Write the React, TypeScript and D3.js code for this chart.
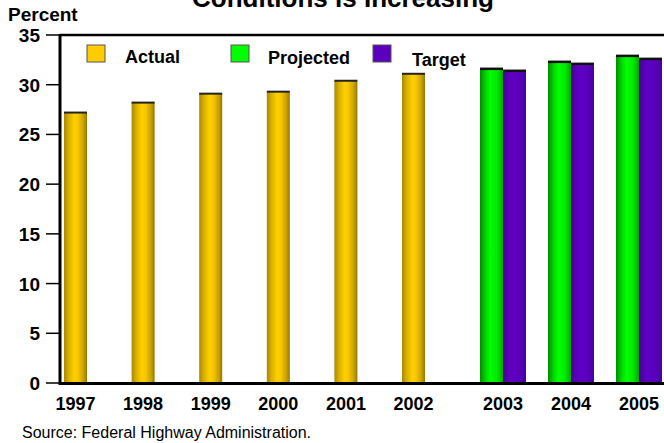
import * as d3 from 'd3';

const actualYears = ['1997', '1998', '1999', '2000', '2001', '2002'];
const actualValues = [27.2, 28.2, 29.1, 29.3, 30.4, 31.1];
const futureYears = ['2003', '2004', '2005'];
const projectedValues = [31.6, 32.3, 32.9];
const targetValues = [31.4, 32.1, 32.6];
const yTicks = [0, 5, 10, 15, 20, 25, 30, 35];

const W = 664;
const H = 443;
const left = 60;
const top = 35;
const bottom = 383;
const barW = 23;
const font = 'Arial, "Liberation Sans", Helvetica, sans-serif';

export default function App() {
  const y = d3.scaleLinear().domain([0, 35]).range([bottom, top]);
  const xActual = d3.scaleBand().domain(actualYears).range([41.7, 447.3]);
  const xFuture = d3.scaleBand().domain(futureYears).range([469, 673]);

  const legend = [
    { label: 'Actual', fill: '#FFCC00', sx: 87, tx: 125, ty: 63 },
    { label: 'Projected', fill: '#00FF00', sx: 231, tx: 268, ty: 64 },
    { label: 'Target', fill: '#5B00BF', sx: 373, tx: 412, ty: 66 },
  ];

  return (
    <div style={{ position: 'absolute', left: 0, top: 0 }}>
      <svg width={W} height={H} style={{ display: 'block', background: '#fff' }} fontFamily={font}>
        <defs>
          <linearGradient id="gold" x1="0" x2="1" y1="0" y2="0">
            <stop offset="0%" stopColor="#A88800" />
            <stop offset="20%" stopColor="#D8B000" />
            <stop offset="45%" stopColor="#FFD000" />
            <stop offset="60%" stopColor="#F8C800" />
            <stop offset="85%" stopColor="#C8A000" />
            <stop offset="100%" stopColor="#957600" />
          </linearGradient>
          <linearGradient id="green" x1="0" x2="1" y1="0" y2="0">
            <stop offset="0%" stopColor="#008C00" />
            <stop offset="25%" stopColor="#00D800" />
            <stop offset="45%" stopColor="#00FF00" />
            <stop offset="75%" stopColor="#00E800" />
            <stop offset="100%" stopColor="#00A800" />
          </linearGradient>
          <linearGradient id="purple" x1="0" x2="1" y1="0" y2="0">
            <stop offset="0%" stopColor="#4A0098" />
            <stop offset="35%" stopColor="#5E00C4" />
            <stop offset="70%" stopColor="#5A00BC" />
            <stop offset="100%" stopColor="#4800A0" />
          </linearGradient>
        </defs>

        {/* title (second line; first line is above the frame) */}
        <text x={343} y={7} textAnchor="middle" fontSize={26} fontWeight="bold">
          Conditions is Increasing
        </text>
        <text x={8} y={21} fontSize={19} fontWeight="bold">Percent</text>

        {/* actual bars */}
        {actualYears.map((yr, i) => {
          const cx = xActual(yr)! + xActual.bandwidth() / 2;
          return (
            <g key={yr}>
              <rect x={cx - barW / 2} y={y(actualValues[i])} width={barW} height={bottom - y(actualValues[i])} fill="url(#gold)" />
              <line x1={cx - barW / 2} x2={cx + barW / 2} y1={y(actualValues[i])} y2={y(actualValues[i])} stroke="#222" strokeWidth={2} />
            </g>
          );
        })}

        {/* projected + target bars */}
        {futureYears.map((yr, i) => {
          const cx = xFuture(yr)! + xFuture.bandwidth() / 2;
          return (
            <g key={yr}>
              <rect x={cx - barW} y={y(projectedValues[i])} width={barW} height={bottom - y(projectedValues[i])} fill="url(#green)" />
              <line x1={cx - barW} x2={cx} y1={y(projectedValues[i])} y2={y(projectedValues[i])} stroke="#111" strokeWidth={2.5} />
              <rect x={cx} y={y(targetValues[i])} width={barW} height={bottom - y(targetValues[i])} fill="url(#purple)" />
              <line x1={cx} x2={cx + barW} y1={y(targetValues[i])} y2={y(targetValues[i])} stroke="#111" strokeWidth={2.5} />
            </g>
          );
        })}

        {/* frame */}
        <line x1={left} x2={W} y1={top} y2={top} stroke="#000" strokeWidth={2.5} />
        <line x1={left} x2={W} y1={bottom + 0.5} y2={bottom + 0.5} stroke="#000" strokeWidth={3} />
        <line x1={left} x2={left} y1={top - 1} y2={bottom + 2} stroke="#000" strokeWidth={3} />

        {/* y ticks */}
        {yTicks.map((t) => (
          <g key={t}>
            <line x1={46} x2={left} y1={y(t)} y2={y(t)} stroke="#000" strokeWidth={1.5} />
            <text x={40} y={y(t) + 7} textAnchor="end" fontSize={19} fontWeight="bold">{t}</text>
          </g>
        ))}

        {/* x labels */}
        {actualYears.map((yr) => (
          <text key={yr} x={xActual(yr)! + xActual.bandwidth() / 2} y={410} textAnchor="middle" fontSize={18} fontWeight="bold">{yr}</text>
        ))}
        {futureYears.map((yr) => (
          <text key={yr} x={xFuture(yr)! + xFuture.bandwidth() / 2} y={410} textAnchor="middle" fontSize={18} fontWeight="bold">{yr}</text>
        ))}

        {/* legend */}
        {legend.map((l) => (
          <g key={l.label}>
            <rect x={l.sx} y={45} width={18} height={17} fill={l.fill} stroke="#555" strokeWidth={1} />
            <text x={l.tx} y={l.ty} fontSize={18} fontWeight="bold">{l.label}</text>
          </g>
        ))}

        <text x={22} y={438} fontSize={16}>Source: Federal Highway Administration.</text>
      </svg>
    </div>
  );
}
